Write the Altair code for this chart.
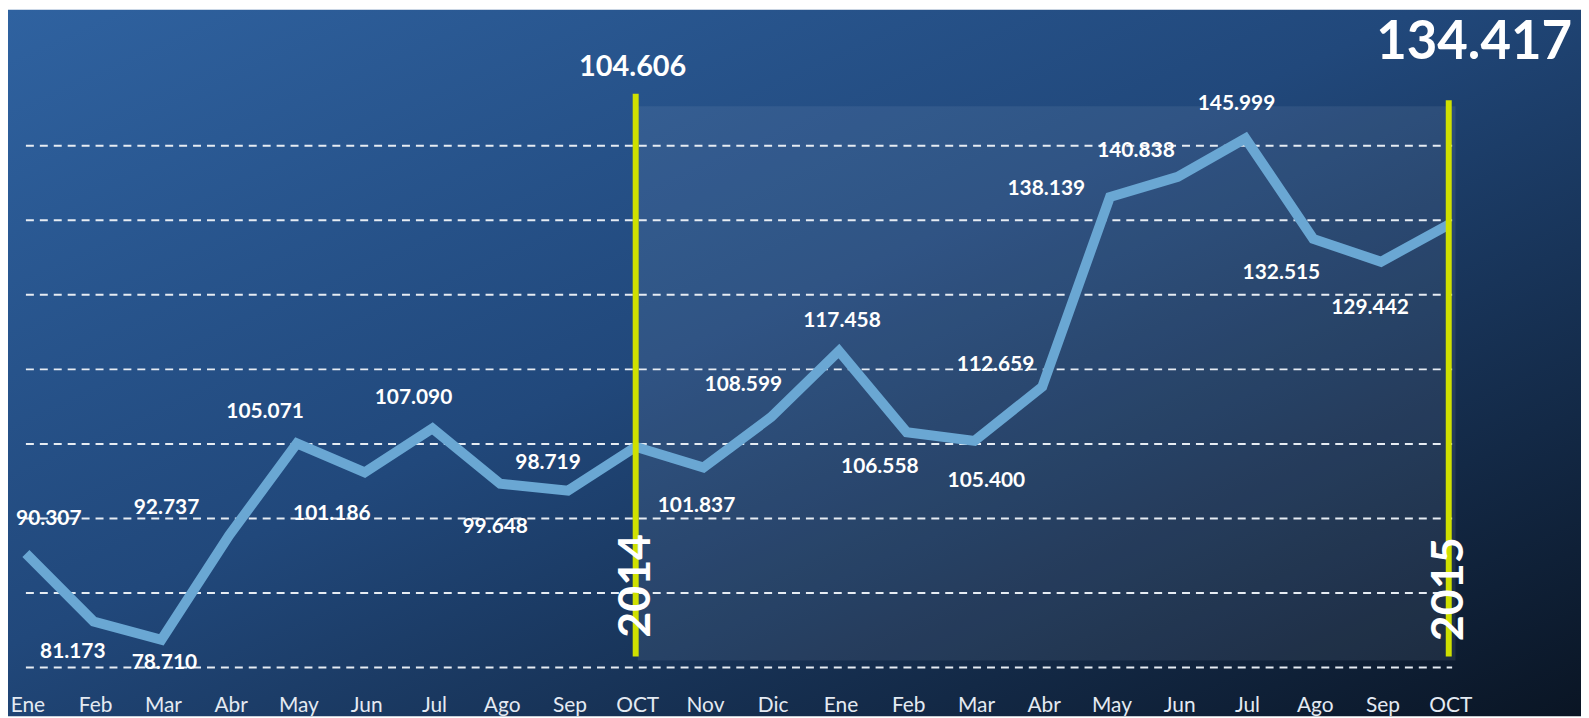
import altair as alt
import pandas as pd

# ---------------- data ----------------
months = ["Ene", "Feb", "Mar", "Abr", "May", "Jun", "Jul", "Ago", "Sep", "OCT",
          "Nov", "Dic", "Ene", "Feb", "Mar", "Abr", "May", "Jun", "Jul", "Ago",
          "Sep", "OCT"]
values = [90.307, 81.173, 78.710, 92.737, 105.071, 101.186, 107.090, 99.648,
          98.719, 104.606, 101.837, 108.599, 117.458, 106.558, 105.400, 112.659,
          138.139, 140.838, 145.999, 132.515, 129.442, 134.417]
grid_values = [75, 85, 95, 105, 115, 125, 135, 145]
years = ["2014", "2015"]
year_index = [9, 21]
highlight_index = [9, 21]

# ---------------- style ----------------
W, H = 1581, 710
FONT = "Lato"
x_scale = alt.Scale(domain=[-0.2643, 22.952], nice=False, zero=False)
y_scale = alt.Scale(domain=[68.46, 163.25], nice=False, zero=False)

# pixel offsets of each value label from its point (None = shown as big label)
label_offsets = [(23, -35), (-21, 31), (3, 23), (-63, -27), (-32, -31),
                 (-33, 42), (-19, -30), (-5, 43), (-20, -28), None,
                 (-7, 39), (-28, -32), (3, -30), (-27, 35), (12, 40),
                 (-47, -22), (-64, -8), (-42, -26), (-9, -34), (-32, 34),
                 (-11, 47), None]

shade_x = (9.03, 21.1)
shade_y = (75.93, 150.3)
grid_x = (0, 21.05)
marker_top = [152.0, 151.1]
marker_bottom = [76.47, 76.47]
year_text_y = [85.95, 85.5]
month_text_y = 69.0
big_text_y = [154.3, 156.7]
big_text_dx = [-3, 124]
big_text_align = ["center", "right"]
big_text_size = [29, 53]

gradient = alt.Gradient(
    gradient="linear",
    stops=[alt.GradientStop(color="#2f62a0", offset=0),
           alt.GradientStop(color="#21487b", offset=0.45),
           alt.GradientStop(color="#0a1524", offset=1)],
    x1=0, y1=0, x2=1, y2=1)

df = pd.DataFrame({"idx": list(range(len(values))), "value": values,
                   "month": months,
                   "label": [f"{v:.3f}" for v in values]})
one = pd.DataFrame({"k": [0]})


def X(field=None, **kw):
    if field is None:
        return alt.X(scale=x_scale, axis=None, type="quantitative", **kw)
    return alt.X(field, scale=x_scale, axis=None, type="quantitative", **kw)


def Y(field=None, **kw):
    if field is None:
        return alt.Y(scale=y_scale, axis=None, type="quantitative", **kw)
    return alt.Y(field, scale=y_scale, axis=None, type="quantitative", **kw)


bg = alt.Chart(one).mark_rect(fill=gradient).encode(
    x=alt.value(0), x2=alt.value("width"), y=alt.value(0), y2=alt.value("height"))

shade = alt.Chart(one).mark_rect(fill="#c8d4e4", fillOpacity=0.09).encode(
    x=X(datum=shade_x[0]), x2=alt.X2(datum=shade_x[1]),
    y=Y(datum=shade_y[0]), y2=alt.Y2(datum=shade_y[1]))

grid = alt.Chart(pd.DataFrame({"g": grid_values})).mark_rule(
    color="#e6ecf3", strokeWidth=2, strokeDash=[8, 6]).encode(
    x=X(datum=grid_x[0]), x2=alt.X2(datum=grid_x[1]), y=Y("g"))

line = alt.Chart(df).mark_line(color="#6aa7d3", strokeWidth=10,
                               strokeJoin="miter").encode(
    x=X("idx"), y=Y("value"))

markers = alt.Chart(pd.DataFrame({"idx": year_index, "top": marker_top,
                                  "bot": marker_bottom})).mark_rule(
    color="#cfe000", strokeWidth=6).encode(
    x=X("idx"), y=Y("top"), y2="bot")

year_text = alt.Chart(pd.DataFrame({"idx": year_index, "ty": year_text_y,
                                    "year": years})).mark_text(
    angle=270, font=FONT, fontSize=45, fontWeight="bold", color="white",
    align="center", baseline="middle").encode(
    x=X("idx"), y=Y("ty"), text="year:N")

month_text = alt.Chart(df).transform_calculate(my=str(month_text_y)).mark_text(
    font=FONT, fontSize=21, color="#e4eaf2", align="center",
    baseline="alphabetic", dx=2).encode(
    x=X("idx"), y=Y("my"), text="month:N")

layers = [bg, shade, grid, line, markers, month_text]

for i, off in enumerate(label_offsets):
    if off is None:
        continue
    layers.append(
        alt.Chart(df).transform_filter(alt.datum.idx == i).mark_text(
            font=FONT, fontSize=21, fontWeight="bold", color="white",
            align="center", baseline="middle", dx=off[0], dy=off[1]).encode(
            x=X("idx"), y=Y("value"), text="label:N"))

for j, i in enumerate(highlight_index):
    layers.append(
        alt.Chart(df).transform_filter(alt.datum.idx == i)
        .transform_calculate(ty=str(big_text_y[j]))
        .mark_text(font=FONT, fontSize=big_text_size[j], fontWeight="bold",
                   color="white", align=big_text_align[j],
                   baseline="alphabetic", dx=big_text_dx[j]).encode(
            x=X("idx"), y=Y("ty"), text="label:N"))

layers.append(year_text)

chart = alt.layer(*layers).properties(
    width=W, height=H, autosize=alt.AutoSizeParams(type="none"), padding=0
).configure_view(stroke=None)

chart.save("out.html", embed_options={"renderer": "svg", "actions": False})
